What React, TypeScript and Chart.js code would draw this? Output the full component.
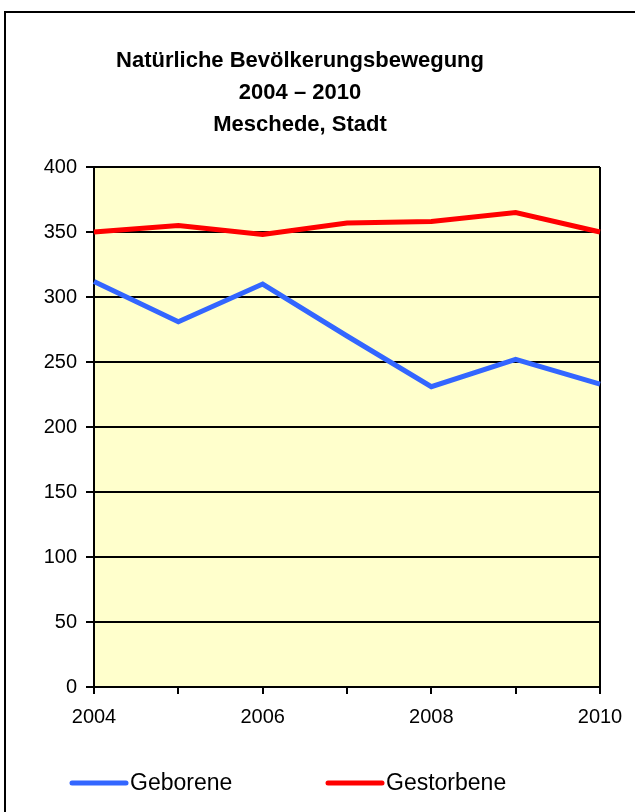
import React, { useEffect, useRef } from "react";
import { Chart, registerables } from "chart.js";

Chart.register(...registerables);

const years = ["2004", "2005", "2006", "2007", "2008", "2009", "2010"];
const geborene = [312, 281, 310, 270, 231, 252, 233];
const gestorbene = [350, 355, 348, 357, 358, 365, 350];
const seriesNames = ["Geborene", "Gestorbene"];
const titleLines = ["Natürliche Bevölkerungsbewegung", "2004 – 2010", "Meschede, Stadt"];
const yMin = 0;
const yMax = 400;
const yStep = 50;

const FONT = "'Liberation Sans', Arial, sans-serif";

const plotBackground = {
  id: "plotBackground",
  beforeDraw(chart: any) {
    const { ctx, chartArea } = chart;
    ctx.save();
    ctx.fillStyle = "#FFFFCC";
    ctx.fillRect(chartArea.left, chartArea.top, chartArea.right - chartArea.left, chartArea.bottom - chartArea.top);
    ctx.restore();
  },
};

const bottomLegend = {
  id: "bottomLegend",
  afterDraw(chart: any) {
    const ctx = chart.ctx;
    const y = 783;
    const starts = [70, 326];
    chart.data.datasets.forEach((ds: any, i: number) => {
      const x = starts[i];
      ctx.save();
      ctx.strokeStyle = ds.borderColor;
      ctx.lineWidth = 5;
      ctx.lineCap = "round";
      ctx.beginPath();
      ctx.moveTo(x + 2, y);
      ctx.lineTo(x + 56, y);
      ctx.stroke();
      ctx.fillStyle = "#000";
      ctx.font = `23px ${FONT}`;
      ctx.textBaseline = "middle";
      ctx.textAlign = "left";
      ctx.fillText(ds.label, x + 60, y + 1);
      ctx.restore();
    });
  },
};

export default function App() {
  const canvasRef = useRef<HTMLCanvasElement | null>(null);

  useEffect(() => {
    if (!canvasRef.current) return;
    const chart = new Chart(canvasRef.current, {
      type: "line",
      data: {
        labels: years,
        datasets: [
          {
            label: seriesNames[0],
            data: geborene,
            borderColor: "#3366FF",
            backgroundColor: "#3366FF",
            borderWidth: 5,
            pointRadius: 0,
            tension: 0,
          },
          {
            label: seriesNames[1],
            data: gestorbene,
            borderColor: "#FF0000",
            backgroundColor: "#FF0000",
            borderWidth: 5,
            pointRadius: 0,
            tension: 0,
          },
        ],
      },
      options: {
        responsive: false,
        animation: false,
        devicePixelRatio: 1,
        layout: { padding: { top: 0, left: 0, right: 35, bottom: 80 } },
        plugins: {
          legend: { display: false },
          tooltip: { enabled: false },
          title: {
            display: true,
            text: titleLines,
            color: "#000",
            font: { family: FONT, size: 22, weight: "bold", lineHeight: 32 / 22 },
            padding: { top: 45, bottom: 26 },
          },
        },
        scales: {
          x: {
            offset: false,
            border: { display: true, color: "#000", width: 2 },
            grid: {
              display: true,
              drawOnChartArea: true,
              drawTicks: true,
              tickLength: 7,
              tickColor: "#000",
              lineWidth: 2,
              color: (ctx: any) => (ctx.index === years.length - 1 ? "#000" : "rgba(0,0,0,0)"),
            },
            ticks: {
              autoSkip: false,
              maxRotation: 0,
              color: "#000",
              padding: 11,
              font: { family: FONT, size: 20 },
              callback: (_v: any, i: number) => (i % 2 === 0 ? years[i] : ""),
            },
            afterFit: (scale: any) => {
              scale.height = 45;
            },
          },
          y: {
            min: yMin,
            max: yMax,
            border: { display: true, color: "#000", width: 2 },
            grid: {
              color: "#000",
              lineWidth: 2,
              tickLength: 8,
              tickColor: "#000",
            },
            ticks: {
              stepSize: yStep,
              color: "#000",
              padding: 9,
              font: { family: FONT, size: 20 },
            },
            afterFit: (scale: any) => {
              scale.width = 94;
            },
          },
        },
      },
      plugins: [plotBackground, bottomLegend],
    });
    return () => chart.destroy();
  }, []);

  return (
    <div style={{ position: "absolute", left: 0, top: 0, width: 635, height: 812, background: "#fff", overflow: "hidden" }}>
      <div
        style={{
          position: "absolute",
          left: 4,
          top: 11,
          width: 700,
          height: 900,
          borderLeft: "2px solid #000",
          borderTop: "2px solid #000",
          boxSizing: "border-box",
        }}
      />
      <canvas ref={canvasRef} width={635} height={812} style={{ position: "absolute", left: 0, top: 0, display: "block" }} />
    </div>
  );
}
